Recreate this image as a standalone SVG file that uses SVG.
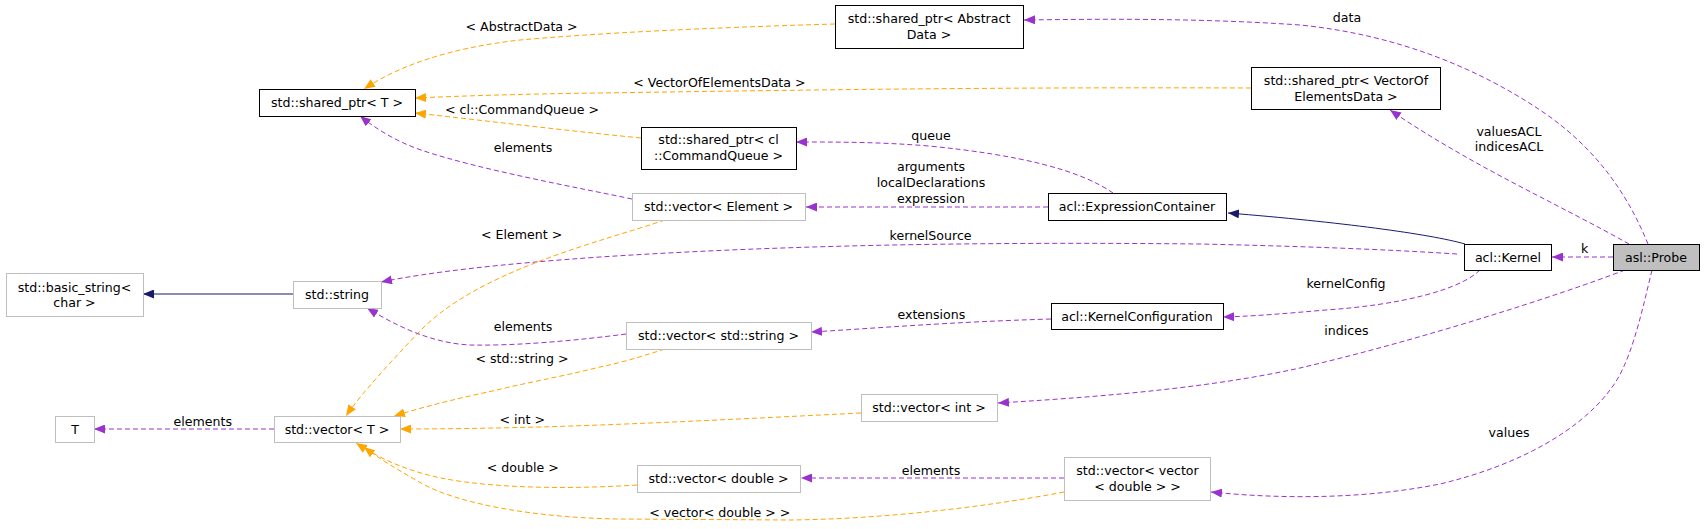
<svg xmlns="http://www.w3.org/2000/svg" width="1704" height="529" viewBox="0 0 1704 529">
<style>
text{font-family:"DejaVu Sans","Liberation Sans",sans-serif;font-size:12.6px;fill:#000;text-anchor:middle}
.nb rect{fill:#fff;stroke:#000;stroke-width:1}
.ng rect{fill:#fff;stroke:#bfbfbf;stroke-width:1}
.e{fill:none;stroke-width:1}
.p{stroke:#9a32cd;stroke-dasharray:5,3}
.o{stroke:#ffa500;stroke-dasharray:5,3}
.n{stroke:#191970}
</style>
<defs>
<marker id="mp" viewBox="0 0 11 9" refX="11" refY="4.5" markerWidth="11" markerHeight="9" markerUnits="userSpaceOnUse" orient="auto"><path d="M0,0L11,4.5L0,9z" fill="#9a32cd"/></marker>
<marker id="mo" viewBox="0 0 11 9" refX="11" refY="4.5" markerWidth="11" markerHeight="9" markerUnits="userSpaceOnUse" orient="auto"><path d="M0,0L11,4.5L0,9z" fill="#ffa500"/></marker>
<marker id="mn" viewBox="0 0 11 9" refX="11" refY="4.5" markerWidth="11" markerHeight="9" markerUnits="userSpaceOnUse" orient="auto"><path d="M0,0L11,4.5L0,9z" fill="#191970"/></marker>
</defs>
<g id="connectors">
<path class="e p" marker-end="url(#mp)" d="M1648,244 C1630,200 1600,150 1540,110 C1480,70 1400,35 1300,25 C1200,18 1100,19 1024,20"/>
<text x="1347" y="21.5">data</text>
<path class="e p" marker-end="url(#mp)" d="M1629,244 C1560,205 1470,165 1390,110"/>
<text x="1509" y="135.5">valuesACL</text>
<text x="1509" y="150.5">indicesACL</text>
<path class="e p" marker-end="url(#mp)" d="M1613,257 L1552,257"/>
<text x="1584.6" y="252.5">k</text>
<path class="e p" marker-end="url(#mp)" d="M1625,270 C1560,295 1420,340 1300,368 C1200,390 1080,398 998,403"/>
<text x="1346.4" y="334.5">indices</text>
<path class="e p" marker-end="url(#mp)" d="M1652,270 C1640,320 1630,365 1610,390 C1580,430 1520,465 1440,484 C1370,498 1290,500 1211,492"/>
<text x="1509" y="436.5">values</text>
<path class="e n" marker-end="url(#mn)" d="M1465,244 C1430,234 1340,222 1228,213"/>
<path class="e p" marker-end="url(#mp)" d="M1457,254 C1380,249 1291,246 1200,244 C1000,242 800,244 600,257 C500,264 430,272 381,282"/>
<text x="930.6" y="240">kernelSource</text>
<path class="e p" marker-end="url(#mp)" d="M1480,270 C1460,290 1400,305 1326,310 C1290,313 1260,316 1223,317"/>
<text x="1346" y="287.5">kernelConfig</text>
<path class="e p" marker-end="url(#mp)" d="M1051,319 C950,322 880,328 811,332"/>
<text x="931.4" y="318.5">extensions</text>
<path class="e p" marker-end="url(#mp)" d="M1048,207 L806,207"/>
<text x="931" y="170.5">arguments</text>
<text x="931" y="186.5">localDeclarations</text>
<text x="931" y="202.5">expression</text>
<path class="e p" marker-end="url(#mp)" d="M1113,193 C1080,170 1020,155 929,146 C880,142 840,142 796,142"/>
<text x="931" y="139.5">queue</text>
<path class="e p" marker-end="url(#mp)" d="M632,199 C580,188 480,170 421,150 C395,141 375,128 360,116"/>
<text x="523" y="151.5">elements</text>
<path class="e o" marker-end="url(#mo)" d="M835,24 C700,28 600,33 520,40 C450,48 400,65 364,89"/>
<text x="521.6" y="30.5">&lt; AbstractData &gt;</text>
<path class="e o" marker-end="url(#mo)" d="M1251,88 C1000,87 800,90 600,93 C520,94 460,96 415,98"/>
<text x="719.4" y="86.8">&lt; VectorOfElementsData &gt;</text>
<path class="e o" marker-end="url(#mo)" d="M641,138 C560,130 480,120 415,113"/>
<text x="522" y="113.5">&lt; cl::CommandQueue &gt;</text>
<path class="e o" marker-end="url(#mo)" d="M665,220 C600,242 480,270 421,330 C395,357 360,395 346,416"/>
<text x="521.6" y="238.5">&lt; Element &gt;</text>
<path class="e n" marker-end="url(#mn)" d="M293,294 L143,294"/>
<path class="e p" marker-end="url(#mp)" d="M626,334 C580,340 520,346 470,345 C430,343 395,325 367,308"/>
<text x="523" y="331">elements</text>
<path class="e o" marker-end="url(#mo)" d="M665,349 C640,357 620,363 600,367 C560,377 520,384 497,390 C450,400 420,408 394,416"/>
<text x="522" y="362.5">&lt; std::string &gt;</text>
<path class="e o" marker-end="url(#mo)" d="M861,413 C760,418 680,422 600,425 C520,428 450,429 400,429"/>
<text x="522.3" y="423.5">&lt; int &gt;</text>
<path class="e p" marker-end="url(#mp)" d="M274,429 L94,429"/>
<text x="202.8" y="425.5">elements</text>
<path class="e o" marker-end="url(#mo)" d="M637,485 C560,490 470,488 421,473 C390,464 370,452 356,443"/>
<text x="522.7" y="471.5">&lt; double &gt;</text>
<path class="e o" marker-end="url(#mo)" d="M1064,492 C980,508 880,519 790,520 L620,519 C540,518 460,505 421,483 C400,471 378,458 364,447"/>
<text x="719.8" y="516.5">&lt; vector&lt; double &gt; &gt;</text>
<path class="e p" marker-end="url(#mp)" d="M1064,478 L801,478"/>
<text x="931" y="474.5">elements</text>
</g>
<g id="n_probe" class="nb"><rect x="1613.5" y="244.5" width="86" height="26" style="fill:#bfbfbf"/><text x="1656" y="261.5">asl::Probe</text></g>
<g id="n_kernel" class="nb"><rect x="1464.5" y="244.5" width="87" height="26"/><text x="1508" y="261.5">acl::Kernel</text></g>
<g id="n_expr" class="nb"><rect x="1048.5" y="193.5" width="178" height="27"/><text x="1137" y="211">acl::ExpressionContainer</text></g>
<g id="n_kconf" class="nb"><rect x="1051.5" y="303.5" width="172" height="26"/><text x="1137" y="320.5">acl::KernelConfiguration</text></g>
<g id="n_sp_abs" class="nb"><rect x="835.5" y="5.5" width="188" height="43"/><text x="929" y="22.8">std::shared_ptr&lt; Abstract</text><text x="929" y="38.8">Data &gt;</text></g>
<g id="n_sp_t" class="nb"><rect x="259.5" y="89.5" width="156" height="27"/><text x="337" y="107">std::shared_ptr&lt; T &gt;</text></g>
<g id="n_sp_voed" class="nb"><rect x="1251.5" y="67.5" width="189" height="42"/><text x="1346" y="84.5">std::shared_ptr&lt; VectorOf</text><text x="1346" y="100.5">ElementsData &gt;</text></g>
<g id="n_sp_cl" class="nb"><rect x="641.5" y="127.5" width="155" height="42"/><text x="718.5" y="143.5">std::shared_ptr&lt; cl</text><text x="718.5" y="159.5">::CommandQueue &gt;</text></g>
<g id="n_vec_el" class="ng"><rect x="632.5" y="193.5" width="173" height="27"/><text x="718.5" y="211">std::vector&lt; Element &gt;</text></g>
<g id="n_basic" class="ng"><rect x="6.5" y="273.5" width="137" height="43"/><text x="74.5" y="291.5">std::basic_string&lt;</text><text x="74.5" y="307">char &gt;</text></g>
<g id="n_string" class="ng"><rect x="293.5" y="281.5" width="88" height="27"/><text x="337" y="299">std::string</text></g>
<g id="n_vec_str" class="ng"><rect x="626.5" y="322.5" width="185" height="27"/><text x="718.5" y="340">std::vector&lt; std::string &gt;</text></g>
<g id="n_vec_int" class="ng"><rect x="861.5" y="394.5" width="136" height="27"/><text x="929" y="412">std::vector&lt; int &gt;</text></g>
<g id="n_T" class="ng"><rect x="55.5" y="416.5" width="39" height="26"/><text x="75" y="433.5">T</text></g>
<g id="n_vec_T" class="ng"><rect x="274.5" y="416.5" width="126" height="26"/><text x="337" y="433.5">std::vector&lt; T &gt;</text></g>
<g id="n_vec_dbl" class="ng"><rect x="637.5" y="465.5" width="163" height="27"/><text x="718.5" y="483">std::vector&lt; double &gt;</text></g>
<g id="n_vec_vec" class="ng"><rect x="1064.5" y="457.5" width="146" height="43"/><text x="1137.5" y="474.5">std::vector&lt; vector</text><text x="1137.5" y="490.5">&lt; double &gt; &gt;</text></g>
</svg>
